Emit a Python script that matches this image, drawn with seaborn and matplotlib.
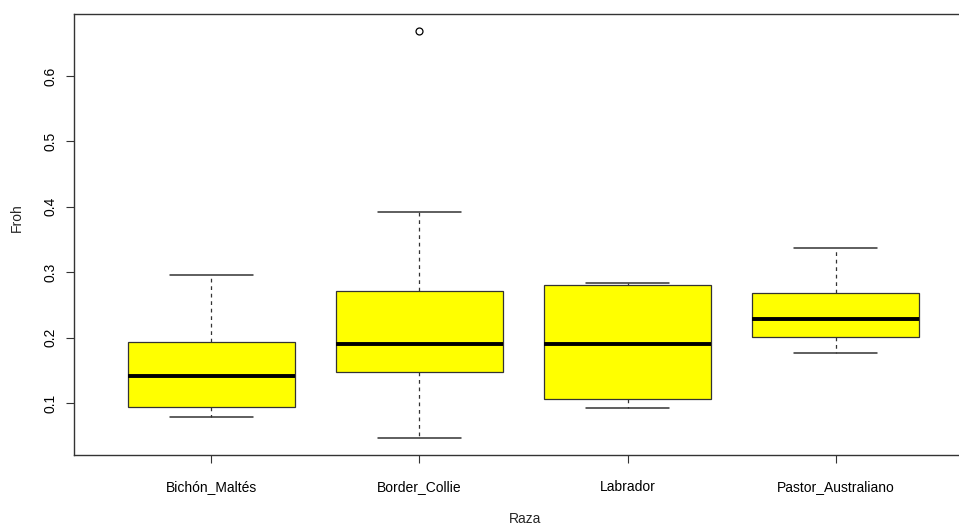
import matplotlib
matplotlib.use("Agg")
import matplotlib.pyplot as plt
import pandas as pd
import seaborn as sns

razas = ["Bichón_Maltés", "Border_Collie", "Labrador", "Pastor_Australiano"]
froh_bichon = [0.079, 0.094, 0.141, 0.193, 0.296]
froh_border = [0.046, 0.110, 0.147, 0.170, 0.190, 0.230, 0.271, 0.392, 0.669]
froh_labrador = [0.092, 0.106, 0.190, 0.280, 0.283]
froh_pastor = [0.176, 0.201, 0.228, 0.268, 0.337]

rows = []
for raza, vals in zip(razas, [froh_bichon, froh_border, froh_labrador, froh_pastor]):
    for v in vals:
        rows.append({"Raza": raza, "Froh": v})
df = pd.DataFrame(rows)

sns.set_style("white")
plt.rcParams["font.family"] = ["Liberation Sans", "DejaVu Sans"]

W, H = 959, 528
fig = plt.figure(figsize=(W / 100, H / 100), dpi=100)
# plot region (right edge runs past the picture, as in the reference)
left, right, top, bottom = 74, 973, 14, 455
ax = fig.add_axes([left / W, 1 - bottom / H, (right - left) / W, (bottom - top) / H])

edge = "#333333"
sns.boxplot(
    data=df, x="Raza", y="Froh", order=razas, ax=ax,
    color="#ffff00", width=0.8, whis=1.5, linewidth=0.9, linecolor=edge,
    boxprops={"facecolor": "#ffff00", "edgecolor": edge},
    medianprops={"color": "black", "linewidth": 2.8},
    whiskerprops={"color": edge, "linestyle": (0, (3, 3)), "linewidth": 0.9},
    capprops={"color": edge, "linewidth": 1.1},
    flierprops={"marker": "o", "markerfacecolor": "none", "markeredgecolor": "black",
                "markersize": 5, "markeredgewidth": 0.9},
    capwidths=0.4,
)

ax.set_xlim(-0.66, 3.66)
ax.set_ylim(0.0205, 0.6948)
ax.set_yticks([0.1, 0.2, 0.3, 0.4, 0.5, 0.6])
ax.set_yticklabels(["0.1", "0.2", "0.3", "0.4", "0.5", "0.6"], rotation=90, va="center")

for s in ax.spines.values():
    s.set_color(edge)
    s.set_linewidth(1.0)

ax.tick_params(axis="both", direction="out", length=6, width=0.8, color=edge,
               labelsize=10, labelcolor="black", bottom=True, left=True)
ax.tick_params(axis="y", pad=6)
ax.tick_params(axis="x", pad=12)

ax.set_xlabel("Raza", fontsize=10)
ax.set_ylabel("Froh", fontsize=10)
ax.xaxis.set_label_coords((525 - left) / (right - left), -(512 - bottom) / (bottom - top))
ax.yaxis.set_label_coords(-(74 - 24) / (right - left), 1 - (218 - top) / (bottom - top))

fig.savefig("out.png", dpi=100, facecolor="white")
